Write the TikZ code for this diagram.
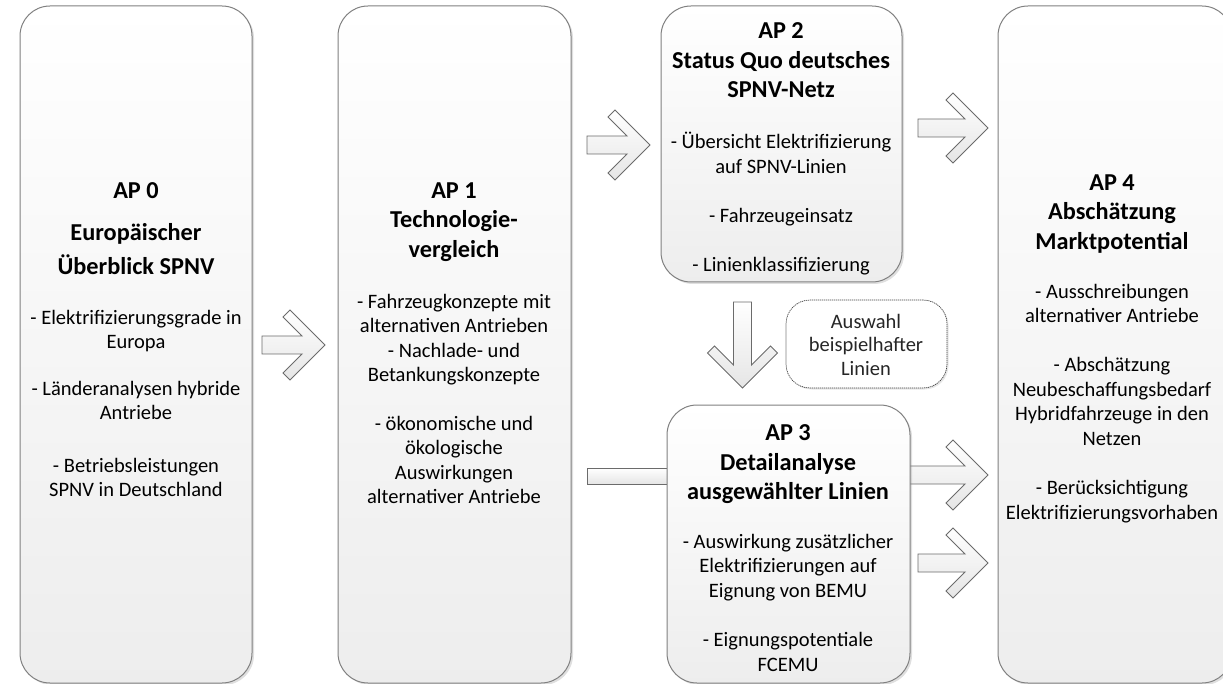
\documentclass[tikz,border=0pt]{standalone}
\usepackage{fontspec}
\setmainfont{Carlito}
\usetikzlibrary{shadows}
\tikzset{
  box/.style={draw=black!50, line width=1pt, rounded corners=30pt, top color=white, bottom color=black!7,
    inner sep=0pt, drop shadow={shadow xshift=2pt, shadow yshift=-2pt, opacity=0.25}},
  notebox/.style={draw=black!75, line width=0.7pt, dash pattern=on 1.2pt off 0.8pt, rounded corners=24pt,
    fill=white, inner sep=0pt, drop shadow={shadow xshift=1.5pt, shadow yshift=-1.5pt, opacity=0.2}},
  blockarrow/.style={draw=black!58, line width=0.9pt, line join=miter, top color=white, bottom color=black!10},
  titletext/.style={anchor=north, inner sep=0pt, align=center, font=\fontsize{24.3}{29.5}\selectfont\bfseries, execute at begin node=\strut},
  bodytext/.style={anchor=north, inner sep=0pt, align=center, font=\fontsize{20.5}{24.5}\selectfont, execute at begin node=\strut},
  notetext/.style={anchor=north, inner sep=0pt, align=center, text=black!85, font=\fontsize{20.5}{23.5}\selectfont, execute at begin node=\strut}
}
% right-pointing block arrow: #2 = shaft left x, #3 = tip x, #4 = centre y
\newcommand\blockR[4][]{%
  \draw[blockarrow,#1] ({#3},{#4}) -- ({#3-35},{#4-35}) -- ({#3-42},{#4-28}) -- ({#3-23},{#4-9})
    -- ({#2},{#4-9}) -- ({#2},{#4+9}) -- ({#3-23},{#4+9}) -- ({#3-42},{#4+28}) -- ({#3-35},{#4+35}) -- cycle;}
% down-pointing block arrow: #2 = centre x, #3 = shaft top y, #4 = tip y
\newcommand\blockD[4][]{%
  \draw[blockarrow,#1] ({#2},{#4}) -- ({#2-35},{#4-35}) -- ({#2-28},{#4-42}) -- ({#2-9},{#4-23})
    -- ({#2-9},{#3}) -- ({#2+9},{#3}) -- ({#2+9},{#4-23}) -- ({#2+28},{#4-42}) -- ({#2+35},{#4-35}) -- cycle;}
\begin{document}
\begin{tikzpicture}[x=1pt, y=-1pt]
\useasboundingbox (0,0) rectangle (1223,684);
\clip (0,0) rectangle (1223,684);

% shapes behind AP 3
\draw[blockarrow] (587,468) rectangle (700,484);
\blockR{880}{988}{475}

% boxes
\node[box, minimum width=232pt, minimum height=677pt] (ap0) at (136,344.5) {};
\node[box, minimum width=233pt, minimum height=677pt] (ap1) at (454.5,344.5) {};
\node[box, minimum width=241pt, minimum height=276pt] (ap2) at (781.5,144) {};
\node[box, minimum width=243pt, minimum height=278pt] (ap3) at (788.5,544) {};
\node[box, minimum width=234pt, minimum height=677pt] (ap4) at (1115,344.5) {};
\node[notebox, minimum width=161pt, minimum height=88pt] (note) at (866.5,344) {};

% block arrows
\blockR{262}{325}{345}
\blockR{587}{650}{145}
\blockR{918}{988}{128}
\blockR{918}{988}{563}
\blockD{742.5}{302}{388}

% texts
\node[titletext] (t0) at (136,182.4) {AP 0\\[12pt]Europäischer\\[4.5pt]Überblick SPNV};
\node[bodytext] (b0) at (136,310) {- Elektrifizierungsgrade in\\Europa\\[22pt]- Länderanalysen hybride\\Antriebe\\[28pt]- Betriebsleistungen\\SPNV in Deutschland};

\node[titletext] (t1) at (454,182.4) {AP 1\\Technologie-\\vergleich};
\node[bodytext] (b1) at (454,294) {- Fahrzeugkonzepte mit\\alternativen Antrieben\\- Nachlade- und\\Betankungskonzepte\\[24pt]- ökonomische und\\ökologische\\Auswirkungen\\alternativer Antriebe};

\node[titletext] (t2) at (781,22.4) {AP 2\\Status Quo deutsches\\SPNV-Netz};
\node[bodytext] (b2) at (781,132) {- Übersicht Elektrifizierung\\auf SPNV-Linien\\[24.5pt]- Fahrzeugeinsatz\\[25pt]- Linienklassifizierung};

\node[titletext] (t3) at (788,424.4) {AP 3\\Detailanalyse\\ausgewählter Linien};
\node[bodytext] (b3) at (788,534) {- Auswirkung zusätzlicher\\Elektrifizierungen auf\\Eignung von BEMU\\[25pt]- Eignungspotentiale\\FCEMU};

\node[titletext] (t4) at (1112,174.4) {AP 4\\Abschätzung\\Marktpotential};
\node[bodytext] (b4) at (1112,284) {- Ausschreibungen\\alternativer Antriebe\\[24.5pt]- Abschätzung\\Neubeschaffungsbedarf\\Hybridfahrzeuge in den\\Netzen\\[25pt]- Berücksichtigung\\Elektrifizierungsvorhaben};

\node[notetext] (n) at (866,314) {Auswahl\\beispielhafter\\Linien};
\end{tikzpicture}
\end{document}
